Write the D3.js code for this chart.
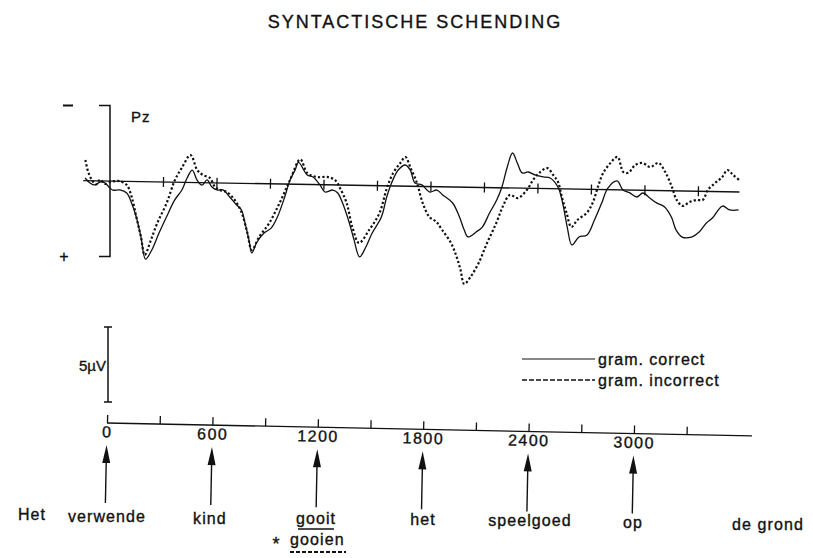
<!DOCTYPE html>
<html><head><meta charset="utf-8">
<script src="https://cdn.jsdelivr.net/npm/d3@7/dist/d3.min.js"></script>
<style>
html,body{margin:0;padding:0;background:#fff;}
svg{display:block;}
text{font-family:"Liberation Sans",Arial,Helvetica,sans-serif;fill:#111;stroke:#111;stroke-width:0.35px;}
</style></head>
<body>
<svg id="chart" width="813" height="558"></svg>
<script>
// ---- DATA ----
const title = "SYNTACTISCHE SCHENDING";
const electrode = "Pz";
const seriesNames = ["gram. correct", "gram. incorrect"];
// time in ms, amplitude in µV (negative plotted up)
const correctTime = [-140,-112,-84,-56,-28,0,17,56,95,123,151,179,207,241,280,320,364,404,432,460,488,516,544,572,600,634,673,712,740,757,785,802,830,869,908,942,981,1009,1037,1055,1105,1138,1178,1206,1250,1278,1306,1346,1374,1407,1441,1475,1525,1553,1581,1615,1654,1682,1710,1749,1794,1834,1867,1923,1963,1991,2013,2058,2092,2131,2170,2198,2226,2254,2282,2310,2344,2383,2428,2467,2512,2540,2568,2596,2635,2680,2720,2759,2792,2843,2877,2916,2955,2989,3028,3067,3112,3151,3179,3213,3269,3308,3348,3381,3437,3477,3527];
const correctVal = [-0.17,0.15,0.28,0.08,0.14,0.46,0.6,0.58,0.78,1.43,2.35,3.67,5.13,4.52,3.39,2.32,1.19,0.51,-0.29,-0.82,-0.16,0.17,-0.18,0.28,0.47,0.46,0.92,1.44,1.77,2.43,3.75,4.6,3.87,3.27,2.93,2.19,0.86,-0.27,-0.95,-1.45,-0.63,-0.5,0.02,0.48,0.34,0.53,1.19,2.5,3.62,4.74,4.07,3.14,2.07,0.74,-0.26,-1.06,-1.4,-1.08,-0.22,-0.1,0.36,0.22,0.54,1.06,1.98,2.84,3.29,2.95,2.62,1.68,0.81,-0.06,-1.39,-2.32,-1.66,-1.01,-1.08,-0.89,-0.77,-0.71,-0.12,0.94,2.52,3.7,3.17,3.02,2.02,0.89,-0.11,-0.59,0,0.19,0.45,0.18,0.5,0.82,1.08,1.74,2.6,3.05,3.03,2.7,2.09,1.75,0.95,1.2,1.19];
const incorrectTime = [-140,-123,-101,-78,-56,-28,0,28,56,95,123,151,179,202,235,269,320,364,404,449,488,521,561,589,617,656,701,740,774,802,841,897,953,1009,1065,1105,1161,1217,1262,1290,1329,1363,1402,1458,1514,1553,1587,1626,1654,1682,1721,1755,1794,1834,1867,1918,1951,1974,1996,2030,2075,2120,2170,2204,2243,2288,2338,2372,2411,2450,2484,2512,2535,2563,2591,2624,2675,2708,2736,2764,2804,2843,2877,2905,2944,2983,3028,3073,3112,3151,3179,3213,3252,3291,3325,3353,3393,3432,3460,3493,3527];
const incorrectVal = [-1.36,-0.57,-0.04,0.24,-0.07,0.2,0.07,0,0,0.25,1.03,2.35,3.67,4.86,3.86,2.74,1.39,-0.14,-1.01,-1.81,-0.83,-0.5,-0.31,0.27,0.47,0.6,1.11,1.91,3.22,4.4,3.54,2.6,1.26,-0.27,-1.65,-0.76,-0.5,-0.52,-0.32,0.2,1.19,2.76,3.81,2.94,1.81,0.15,-0.86,-1.53,-1.93,-1.27,-0.23,1.09,2.01,2.33,2.86,3.71,4.63,5.48,6.41,5.94,5.0,3.67,2.33,1.26,0.46,0.66,0.11,-0.56,-1.09,-1.36,-0.91,-0.45,0.54,1.59,2.51,2.04,1.57,0.9,-0.17,-1.1,-1.77,-2.18,-1.19,-1.14,-1.67,-1.81,-1.55,-1.83,-1.24,-0.25,0.6,0.99,0.72,0.58,0.57,-0.1,-0.57,-0.97,-1.44,-1.12,-0.79];
const minorTicks = [0,300,600,900,1200,1500,1800,2100,2400,2700,3000,3300];
const tickLabels = [0,600,1200,1800,2400,3000];
const wordTimes = [0,600,1200,1800,2400,3000];
const words = ["Het","verwende","kind","gooit","het","speelgoed","op","de grond"];
const starWord = "gooien";
const calib = 5; // µV

// ---- SCALES ----
const svg = d3.select("#chart");
const x = d3.scaleLinear().domain([0,3000]).range([110,645]);
const y = d3.scaleLinear().domain([-5,5]).range([105.5,256.5]);
const xb = d3.scaleLinear().domain([0,3000]).range([107,634]);
const yc = d3.scaleLinear().domain([0,5]).range([402,327]);

// Title
svg.append("text").attr("x",415).attr("y",28).attr("text-anchor","middle")
  .attr("font-size",18).attr("letter-spacing",2).text(title);

// bracket (+/- 5 µV)
svg.append("path").attr("fill","none").attr("stroke","#111").attr("stroke-width",1.5)
  .attr("d",`M99,${y(-5)}H${x(0)}V${y(5)}H99`);
svg.append("line").attr("x1",63).attr("x2",73).attr("y1",y(-5)).attr("y2",y(-5)).attr("stroke","#111").attr("stroke-width",2);
svg.append("text").attr("x",64).attr("y",y(5)+5).attr("text-anchor","middle").attr("font-size",16).text("+");
svg.append("text").attr("x",131).attr("y",122).attr("font-size",15).attr("letter-spacing",1).text(electrode);

// waveform group (slightly rotated as in the scan)
const g = svg.append("g").attr("transform",`rotate(1.0,${x(0)},${y(0)})`);
g.append("line").attr("x1",x(-150)).attr("x2",x(3530)).attr("y1",y(0)).attr("y2",y(0))
  .attr("stroke","#111").attr("stroke-width",1.3);
g.selectAll(".mt").data(minorTicks.filter(d=>d>0)).join("line")
  .attr("x1",d=>x(d)).attr("x2",d=>x(d)).attr("y1",y(0)-5).attr("y2",y(0)+5)
  .attr("stroke","#111").attr("stroke-width",1.3);

const line = d3.line().x(d=>x(d[0])).y(d=>y(d[1])).curve(d3.curveCatmullRom.alpha(0.5));
const cData = correctTime.map((t,i)=>[t,correctVal[i]]);
const iData = incorrectTime.map((t,i)=>[t,incorrectVal[i]]);
g.append("path").datum(cData).attr("d",line).attr("fill","none").attr("stroke","#111").attr("stroke-width",1.3);
g.append("path").datum(iData).attr("d",line).attr("fill","none").attr("stroke","#111")
  .attr("stroke-width",2.2).attr("stroke-dasharray","2.2,2.2");

// calibration bar
svg.append("path").attr("fill","none").attr("stroke","#111").attr("stroke-width",1.5)
  .attr("d",`M104,${yc(calib)}H112M108,${yc(calib)}V${yc(0)}M104,${yc(0)}H112`);
svg.append("text").attr("x",106).attr("y",371).attr("text-anchor","end").attr("font-size",15).text(calib+"\u00b5V");

// legend
const leg = [{y:359,dash:null,w:1.2},{y:380,dash:"5,2",w:1.4}];
leg.forEach((l,i)=>{
  svg.append("line").attr("x1",522).attr("x2",595).attr("y1",l.y).attr("y2",l.y)
    .attr("stroke","#111").attr("stroke-width",l.w).attr("stroke-dasharray",l.dash);
  svg.append("text").attr("x",598).attr("y",l.y+6).attr("font-size",16).attr("letter-spacing",1).text(seriesNames[i]);
});

// bottom time axis (rotated like scan)
const b = svg.append("g").attr("transform",`rotate(1.15,${xb(0)},423)`);
b.append("line").attr("x1",xb(0)).attr("x2",xb(3672)).attr("y1",423).attr("y2",423)
  .attr("stroke","#111").attr("stroke-width",1.3);
const ta = b.append("g").attr("transform","translate(0,423)")
  .call(d3.axisTop(xb).tickValues(minorTicks).tickSize(8).tickFormat(""));
ta.select(".domain").remove();
ta.selectAll("line").attr("stroke","#111").attr("stroke-width",1.3);
const la = b.append("g").attr("transform","translate(0,423)")
  .call(d3.axisBottom(xb).tickValues(tickLabels).tickSize(0).tickPadding(3).tickFormat(d3.format("d")));
la.select(".domain").remove();
la.selectAll("text").attr("font-size",16).attr("letter-spacing",1.5).attr("fill","#111")
  .attr("font-family","Liberation Sans, Arial, sans-serif");

// arrows
const arr = b.selectAll(".arr").data(wordTimes).join("g");
arr.append("line").attr("x1",d=>xb(d)).attr("x2",d=>xb(d)).attr("y1",455).attr("y2",503)
  .attr("stroke","#111").attr("stroke-width",1.4);
arr.append("path").attr("fill","#111")
  .attr("d",d=>`M${xb(d)},445L${xb(d)+4},463L${xb(d)-4},463Z`);

// words
const wordX = [32,107,210,316,423,530,633,768];
const wordY = [520,522,524,524,525,526,528,530];
svg.selectAll(".w").data(words).join("text")
  .attr("x",(d,i)=>wordX[i]).attr("y",(d,i)=>wordY[i]).attr("text-anchor","middle")
  .attr("font-size",16).attr("letter-spacing",1.1).text(d=>d);
// underline under "gooit"
svg.append("line").attr("x1",298).attr("x2",334).attr("y1",529).attr("y2",529).attr("stroke","#111").attr("stroke-width",1.4);
svg.append("text").attr("x",276).attr("y",550).attr("text-anchor","middle").attr("font-size",18).text("*");
svg.append("text").attr("x",290).attr("y",545).attr("font-size",16).attr("letter-spacing",1.1).text(starWord);
svg.append("line").attr("x1",290).attr("x2",346).attr("y1",552).attr("y2",552).attr("stroke","#111")
  .attr("stroke-width",2).attr("stroke-dasharray","4,2");
</script>
</body></html>
